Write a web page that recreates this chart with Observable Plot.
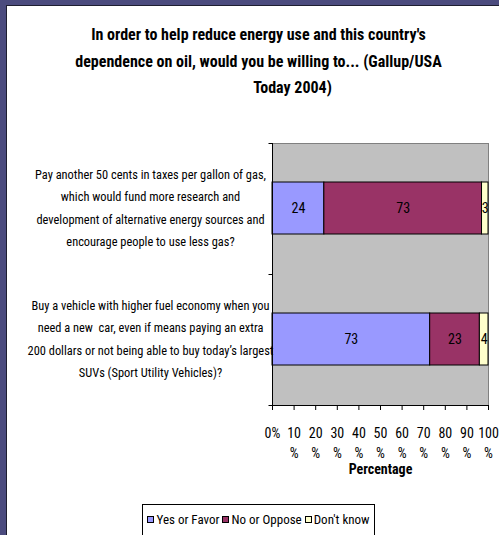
<!DOCTYPE html>
<html><head><meta charset="utf-8">
<script src="https://cdn.jsdelivr.net/npm/d3@7"></script>
<script src="https://cdn.jsdelivr.net/npm/@observablehq/plot@0.6"></script>
<style>
html,body{margin:0;padding:0;width:499px;height:535px;overflow:hidden;background:#4b4b7e;}
#panel{position:absolute;left:6px;top:5px;width:493px;height:530px;background:#fff;border-left:1px solid #1e1e30;border-top:1px solid #1e1e30;box-sizing:border-box;}
#title{position:absolute;left:9px;top:22px;width:499px;text-align:center;font-weight:bold;font-size:16px;line-height:26.5px;color:#000;}
#title span{display:block;}
#chart{position:absolute;left:0;top:110px;}
#legend{position:absolute;left:142px;top:504px;width:233px;height:40px;box-sizing:border-box;border:1px solid #000;background:#fff;display:flex;justify-content:center;align-items:flex-start;padding-top:7px;font-size:13px;line-height:15px;color:#000;white-space:nowrap;}
.item{display:flex;align-items:center;margin:0 1.5px;flex-shrink:0;white-space:nowrap;}
.sw{display:inline-block;width:5px;height:5px;border:1px solid #000;margin-right:2px;}
</style>
</head><body>
<div id="panel"></div>
<div id="title"></div>
<div id="chart"></div>
<div id="legend"></div>
<script>
const FONT = '"Liberation Sans Narrow","Arial Narrow","Roboto Condensed","Liberation Sans",Arial,sans-serif';

const titleLines = [
  "In order to help reduce energy use and this country's",
  "dependence on oil, would you be willing to... (Gallup/USA",
  "Today 2004)"
];
const questionLines = [
  ["Pay another 50 cents in taxes per gallon of gas,",
   "which would fund more research and",
   "development of alternative energy sources and",
   "encourage people to use less gas?"],
  ["Buy a vehicle with higher fuel economy when you",
   "need a new  car, even if means paying an extra",
   "200 dollars or not being able to buy today\u2019s largest",
   "SUVs (Sport Utility Vehicles)?"]
];
const questions = questionLines.map(l => l.join(" "));
const responses = ["Yes or Favor", "No or Oppose", "Don't know"];
const colors = ["#9999ff", "#993366", "#ffffcc"];
const yesValues = [24, 73];
const noValues = [73, 23];
const dkValues = [3, 4];
const xTicks = [0, 10, 20, 30, 40, 50, 60, 70, 80, 90, 100];
const xTickLabels = ["0%", "10%", "20%", "30%", "40%", "50%", "60%", "70%", "80%", "90%", "100%"];
const axisTitle = "Percentage";

const seriesValues = [yesValues, noValues, dkValues];
const rows = [];
questions.forEach((q, i) => responses.forEach((r, j) => rows.push({question: q, response: r, value: seriesValues[j][i]})));

// title
const t = document.getElementById("title");
t.style.fontFamily = FONT;
titleLines.forEach((line, i) => {
  const s = document.createElement("span");
  s.textContent = line;
  if (i === 2) s.style.paddingLeft = "68px";
  t.appendChild(s);
});

function axisLines(index, scales, values, dims) {
  const {x, y} = scales;
  const g = d3.create("svg:g").attr("stroke", "#000").attr("fill", "none");
  const x0 = Math.round(x(0)) + 0.5;
  const top = dims.marginTop, bottom = dims.height - dims.marginBottom;
  const bw = y.bandwidth();
  const step = y.step ? y.step() : (bottom - top) / questions.length;
  const edges = questions.map(q => y(q) - (step - bw) / 2);
  edges.push(y(questions[questions.length - 1]) + bw + (step - bw) / 2);
  g.append("line").attr("x1", x0).attr("x2", x0).attr("y1", top).attr("y2", bottom);
  g.append("line").attr("x1", x0).attr("x2", dims.width - dims.marginRight).attr("y1", Math.round(bottom) + 0.5).attr("y2", Math.round(bottom) + 0.5);
  edges.forEach(e => g.append("line").attr("x1", x0 - 4).attr("x2", x0).attr("y1", Math.round(e) + 0.5).attr("y2", Math.round(e) + 0.5));
  return g.node();
}

const chart = Plot.plot({
  width: 499, height: 380,
  marginLeft: 272, marginRight: 11, marginTop: 33, marginBottom: 85,
  style: {background: "transparent", fontFamily: FONT, fontSize: "14px", color: "#000", overflow: "visible"},
  x: {domain: [0, 100], axis: null},
  y: {domain: questions, paddingInner: 0.6, paddingOuter: 0.3, axis: null},
  color: {domain: responses, range: colors},
  marks: [
    Plot.frame({fill: "#c0c0c0", stroke: "#808080"}),
    Plot.barX(rows, Plot.stackX({x: "value", y: "question", fill: "response", stroke: "#000", strokeWidth: 1, order: responses})),
    Plot.text(rows, Plot.stackX({x: "value", y: "question", z: "response", order: responses, text: d => String(d.value), fontSize: 14, fill: "#000"})),
    Plot.axisX({ticks: xTicks, tickSize: 5, tickPadding: 13, fontSize: 14, lineHeight: 1.43, label: null,
      tickFormat: d => { const s = xTickLabels[xTicks.indexOf(d)]; return s === "0%" ? s : s.replace("%", "\n%"); }}),
    axisLines,
    Plot.text(questions, {y: d => d, text: (d, i) => questionLines[i].join("\n"), frameAnchor: "left", dx: -122, dy: -3, textAnchor: "middle", lineAnchor: "middle", fontSize: 12.4, lineHeight: 1.8, fill: "#000"}),
    Plot.text([axisTitle], {text: d => d, frameAnchor: "bottom", dy: 64, fontWeight: "bold", fontSize: 14, lineAnchor: "middle", fill: "#000"})
  ]
});
document.getElementById("chart").appendChild(chart);

// legend
const lg = document.getElementById("legend");
lg.style.fontFamily = FONT;
responses.forEach((r, i) => {
  const it = document.createElement("span");
  it.className = "item";
  const sw = document.createElement("span");
  sw.className = "sw";
  sw.style.background = colors[i];
  const lab = document.createElement("span");
  lab.textContent = r;
  it.appendChild(sw); it.appendChild(lab);
  lg.appendChild(it);
});
</script>
</body></html>
